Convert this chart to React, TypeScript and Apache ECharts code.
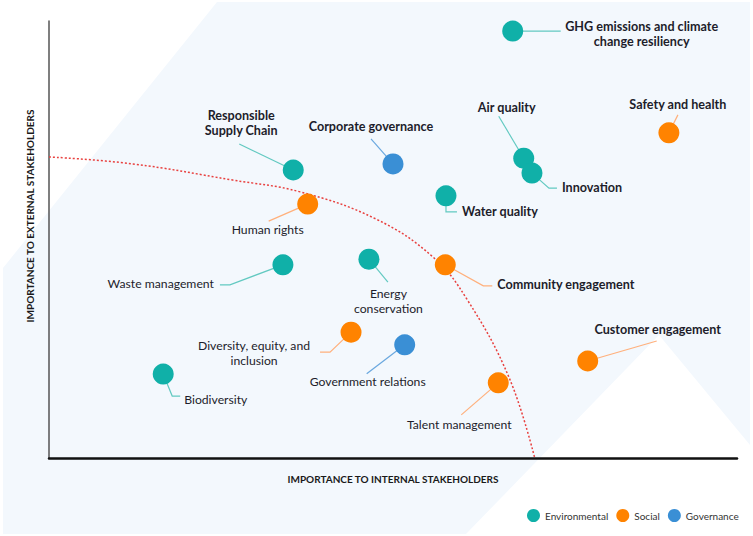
import React, { useEffect, useRef } from "react";
import * as echarts from "echarts";

const categories = ["Environmental", "Social", "Governance"];
const categoryColors = ["#10b0a8", "#ff8300", "#3a8fd5"];
const leaderColors = ["#62c9c1", "#ffb07c", "#6aa8df"];

const topics = [
  "GHG emissions and climate\nchange resiliency",
  "Air quality",
  "Innovation",
  "Water quality",
  "Corporate governance",
  "Safety and health",
  "Responsible\nSupply Chain",
  "Human rights",
  "Waste management",
  "Energy\nconservation",
  "Community engagement",
  "Diversity, equity, and\ninclusion",
  "Biodiversity",
  "Government relations",
  "Talent management",
  "Customer engagement",
];
const topicCategory = [0, 0, 0, 0, 2, 1, 0, 1, 0, 0, 1, 1, 0, 2, 1, 1];
const internalImportance = [67.4, 69.0, 70.2, 57.7, 50.0, 90.1, 35.5, 37.6, 34.0, 46.5, 57.6, 43.9, 16.6, 51.7, 65.3, 78.3];
const externalImportance = [97.7, 68.6, 65.2, 60.0, 67.3, 74.4, 65.9, 58.1, 44.2, 45.5, 44.2, 28.8, 19.2, 25.9, 17.2, 22.2];

const thresholdX = [0, 12.2, 26.7, 36.5, 47.5, 55.8, 60.8, 66.9, 70.6];
const thresholdY = [68.9, 67.3, 63.6, 60.9, 54.7, 46.0, 36.2, 18.3, 0];

const xAxisTitle = "IMPORTANCE TO INTERNAL STAKEHOLDERS";
const yAxisTitle = "IMPORTANCE TO EXTERNAL STAKEHOLDERS";

// label placement (pixel offsets relative to each dot)
const labelLayouts = [
  { dx: 129, dy: 3, align: "center", bold: true, leader: [[48, 0]] },
  { dx: -17, dy: -51, align: "center", bold: true, leader: [[-25, -42]] },
  { dx: 30, dy: 14, align: "left", bold: true, leader: [[17, 15], [25, 15]] },
  { dx: 16, dy: 16, align: "left", bold: true, leader: [[0, 16], [11, 16]] },
  { dx: -22, dy: -37, align: "center", bold: true, leader: [[-22, -25]] },
  { dx: 9, dy: -28, align: "center", bold: true, leader: [[9, -18]] },
  { dx: -52, dy: -47, align: "center", bold: true, leader: [[-54, -26]] },
  { dx: -40, dy: 25, align: "center", bold: false, leader: [[-39, 17]] },
  { dx: -69, dy: 19, align: "right", bold: false, leader: [[-53, 20], [-63, 20]] },
  { dx: 19.5, dy: 42, align: "center", bold: false, leader: [[19, 23]] },
  { dx: 52, dy: 20, align: "left", bold: true, leader: [[38, 21], [47, 21]] },
  { dx: -97, dy: 21, align: "center", bold: false, leader: [[-21, 20], [-31, 20]] },
  { dx: 21, dy: 25, align: "left", bold: false, leader: [[9, 22], [17, 22]] },
  { dx: -37, dy: 37, align: "center", bold: false, leader: [[-38, 29]] },
  { dx: -39, dy: 42, align: "center", bold: false, leader: [[-37, 32]] },
  { dx: 70, dy: -31, align: "center", bold: true, leader: [[69, -20]] },
];

const FONT = "Lato, 'Open Sans', sans-serif";

export default function App() {
  const ref = useRef<HTMLDivElement>(null);

  useEffect(() => {
    if (!ref.current) return;
    const chart = echarts.init(ref.current, null, { renderer: "svg" });

    const scatterSeries = categories.map((name, c) => ({
      name,
      type: "scatter",
      z: 4,
      symbolSize: 21,
      itemStyle: { color: categoryColors[c], opacity: 1 },
      data: internalImportance
        .map((x, i) => (topicCategory[i] === c ? [x, externalImportance[i]] : null))
        .filter((d) => d !== null),
    }));

    const option: any = {
      animation: false,
      backgroundColor: "#ffffff",
      textStyle: { fontFamily: FONT },
      graphic: [
        {
          type: "polygon",
          z: -1,
          silent: true,
          shape: {
            points: [
              [217, 2],
              [750, 2],
              [750, 445],
              [659, 335],
              [466, 534],
              [3, 534],
              [3, 268],
            ],
          },
          style: { fill: "#f3f8fd" },
        },
        {
          type: "text",
          x: 30,
          y: 216,
          rotation: Math.PI / 2,
          silent: true,
          style: {
            text: yAxisTitle,
            fill: "#1a1a1a",
            fontSize: 10,
            fontWeight: "bold",
            fontFamily: FONT,
            align: "center",
            verticalAlign: "middle",
          },
        },
      ],
      grid: { left: 49, right: 16, top: 21, bottom: 78 },
      legend: {
        data: categories,
        left: 522,
        top: 504,
        icon: "circle",
        itemWidth: 13,
        itemHeight: 13,
        itemGap: 8,
        textStyle: { fontSize: 10, color: "#333", fontFamily: FONT },
      },
      xAxis: {
        type: "value",
        min: 0,
        max: 100,
        name: xAxisTitle,
        nameLocation: "middle",
        nameGap: 16,
        nameTextStyle: { fontSize: 10, fontWeight: "bold", color: "#1a1a1a", fontFamily: FONT },
        axisLine: { show: true, lineStyle: { color: "#111", width: 2.5 } },
        axisTick: { show: false },
        axisLabel: { show: false },
        splitLine: { show: false },
      },
      yAxis: {
        type: "value",
        min: 0,
        max: 100,
        axisLine: { show: true, lineStyle: { color: "#555", width: 1.5 } },
        axisTick: { show: false },
        axisLabel: { show: false },
        splitLine: { show: false },
      },
      series: [
        {
          type: "line",
          z: 1,
          silent: true,
          smooth: 0.4,
          showSymbol: false,
          lineStyle: { color: "#e8413f", type: [2, 2], width: 1.5 },
          data: thresholdX.map((x, i) => [x, thresholdY[i]]),
        },
        {
          type: "custom",
          z: 3,
          silent: true,
          clip: false,
          data: internalImportance.map((x, i) => [x, externalImportance[i], i]),
          renderItem: (params: any, api: any) => {
            const i = params.dataIndex;
            const c = api.coord([api.value(0), api.value(1)]);
            const L = labelLayouts[i];
            const pts = [[c[0], c[1]], ...L.leader.map((p) => [c[0] + p[0], c[1] + p[1]])];
            return {
              type: "group",
              children: [
                {
                  type: "polyline",
                  shape: { points: pts },
                  style: { stroke: leaderColors[topicCategory[i]], lineWidth: 1.2, fill: null },
                },
                {
                  type: "text",
                  x: c[0] + L.dx,
                  y: c[1] + L.dy,
                  style: {
                    text: topics[i],
                    fill: "#1d1d2b",
                    fontSize: L.bold ? 12.6 : 12.2,
                    fontWeight: L.bold ? "bold" : "normal",
                    fontFamily: FONT,
                    align: L.align,
                    verticalAlign: "middle",
                    lineHeight: 15,
                  },
                },
              ],
            };
          },
        },
        ...scatterSeries,
      ],
    };

    chart.setOption(option);
    return () => chart.dispose();
  }, []);

  return (
    <div
      ref={ref}
      style={{ position: "fixed", left: 0, top: 0, width: 753, height: 536 }}
    />
  );
}
